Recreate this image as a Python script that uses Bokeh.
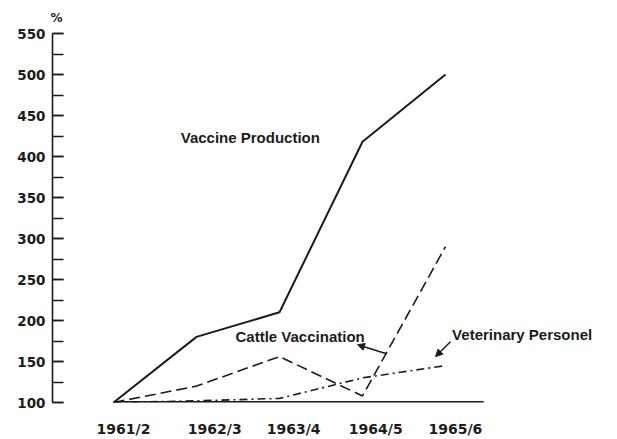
from bokeh.plotting import figure
from bokeh.models import Range1d, FixedTicker, SingleIntervalTicker, Arrow, NormalHead, ColumnDataSource
from bokeh.core.properties import value
from bokeh.embed import file_html
from bokeh.resources import INLINE

# ---- data ----
periods = ["1961/2", "1962/3", "1963/4", "1964/5", "1965/6"]
x_idx = [0, 1, 2, 3, 4]
vaccine_production = [100, 180, 210, 418, 500]
cattle_vaccination = [100, 120, 156, 108, 290]
veterinary_personel = [100, 102, 105, 130, 145]

# tick label positions (labels sit slightly right of the data points)
label_pos = [0.12, 1.22, 2.17, 3.16, 4.12]
y_ticks_interval = 50

# annotation texts and positions (data units)
ann_text = ["Vaccine Production", "Cattle Vaccination", "Veterinary Personel"]
ann_x = [0.81, 1.47, 4.08]
ann_y = [423, 180, 182.5]

# baseline drawn from the first period to beyond the last
baseline_x = [0, 4.46]
baseline_y = [100, 100]

INK = "#1c1c1c"

p = figure(width=610, height=439, output_backend="svg", toolbar_location=None,
           x_range=Range1d(-0.735, 5.928), y_range=Range1d(100, 550),
           min_border_left=52, min_border_right=5, min_border_top=32, min_border_bottom=36)
p.background_fill_color = "white"
p.border_fill_color = "white"
p.outline_line_color = None
p.grid.visible = False

# title used as the "%" unit mark
p.title.text = "%"
p.title.text_font = "DejaVu Sans"
p.title.text_font_size = "12px"
p.title.text_font_style = "bold"
p.title.text_color = INK
p.title.align = "left"
p.title.offset = -2
p.title.standoff = 17

# y axis
ya = p.yaxis[0]
ya.ticker = SingleIntervalTicker(interval=y_ticks_interval, num_minor_ticks=2)
ya.axis_line_color = INK
ya.axis_line_width = 1.6
ya.major_tick_in = 11
ya.major_tick_out = 0
ya.minor_tick_in = 11
ya.minor_tick_out = 0
ya.major_tick_line_color = INK
ya.minor_tick_line_color = INK
ya.major_tick_line_width = 1.4
ya.minor_tick_line_width = 1.4
ya.major_label_standoff = 7
ya.major_label_text_font = "DejaVu Sans"
ya.major_label_text_font_style = "bold"
ya.major_label_text_font_size = "13.5px"
ya.major_label_text_color = INK

# x axis (labels only)
xa = p.xaxis[0]
xa.ticker = FixedTicker(ticks=label_pos)
xa.major_label_overrides = {pos: lab for pos, lab in zip(label_pos, periods)}
xa.axis_line_color = None
xa.major_tick_line_color = None
xa.minor_tick_line_color = None
xa.major_tick_in = 0
xa.major_tick_out = 0
xa.minor_tick_in = 0
xa.minor_tick_out = 0
xa.major_label_standoff = 18
xa.major_label_text_font = "DejaVu Sans"
xa.major_label_text_font_style = "bold"
xa.major_label_text_font_size = "14px"
xa.major_label_text_color = INK

# baseline
p.line(baseline_x, baseline_y, line_color=INK, line_width=3)

# series
p.line(x_idx, vaccine_production, line_color=INK, line_width=2)
p.line(x_idx, cattle_vaccination, line_color=INK, line_width=1.6, line_dash="11 5")
p.line(x_idx, veterinary_personel, line_color=INK, line_width=1.6, line_dash="8 4 2 4")

# annotation texts
src = ColumnDataSource(dict(x=ann_x, y=ann_y, t=ann_text))
p.text(x="x", y="y", text="t", source=src, text_font=value("Liberation Sans"),
       text_font_style="bold", text_font_size="15px", text_color=INK,
       text_baseline="middle", text_align="left")

# leader arrows
p.add_layout(Arrow(end=NormalHead(size=7, fill_color=INK, line_color=INK),
                   x_start=3.29, y_start=159.5, x_end=2.94, y_end=170.4,
                   line_color=INK, line_width=1.5))
p.add_layout(Arrow(end=NormalHead(size=7, fill_color=INK, line_color=INK),
                   x_start=4.06, y_start=174, x_end=3.88, y_end=156,
                   line_color=INK, line_width=1.5))

open("out.html", "w").write(file_html(p, INLINE))
